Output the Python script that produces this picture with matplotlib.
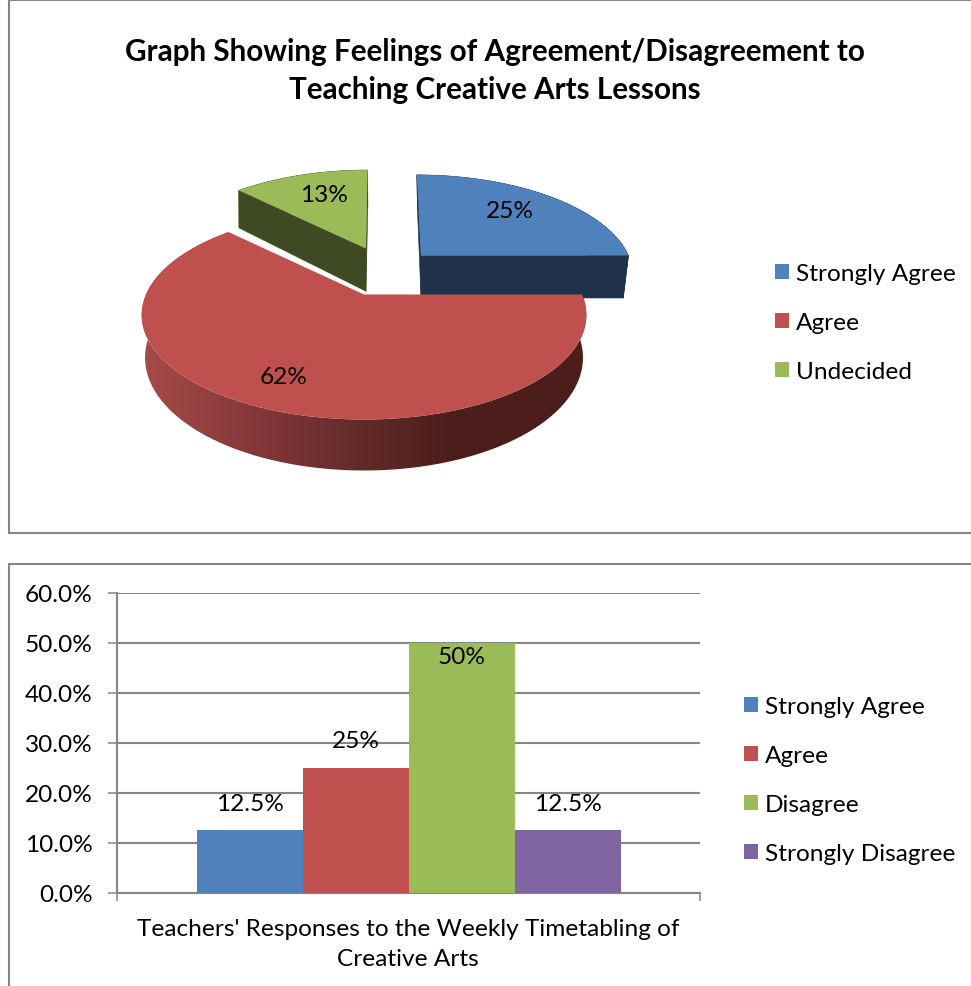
import numpy as np
import matplotlib
matplotlib.use("Agg")
import matplotlib.pyplot as plt
from matplotlib.patches import Rectangle, Polygon, Patch
from matplotlib.colors import LinearSegmentedColormap

# ---- data ----
pie_title = "Graph Showing Feelings of Agreement/Disagreement to\nTeaching Creative Arts Lessons"
pie_categories = ["Strongly Agree", "Agree", "Undecided"]
pie_values = [25.0, 62.5, 12.5]
pie_labels = ["25%", "62%", "13%"]

bar_categories = ["Strongly Agree", "Agree", "Disagree", "Strongly Disagree"]
bar_values = [12.5, 25.0, 50.0, 12.5]
bar_labels = ["12.5%", "25%", "50%", "12.5%"]
bar_xlabel = "Teachers' Responses to the Weekly Timetabling of\nCreative Arts"
y_ticks = [0, 10, 20, 30, 40, 50, 60]

# ---- style ----
W, H = 971, 987
FONT = "Lato"
FS = 17.6
BLUE, RED, GREEN, PURPLE = "#4F81BD", "#C0504D", "#9BBB59", "#8064A2"
DARK_BLUE, DARK_GREEN = "#1F3249", "#3F4A22"
GREY = "#868686"
TEXT = "#000000"
plt.rcParams["font.family"] = [FONT, "DejaVu Sans"]

fig = plt.figure(figsize=(W / 100, H / 100), dpi=100, facecolor="white")
bg = fig.add_axes([0, 0, 1, 1])
bg.axis("off")

# chart frames
for (x0, y0, x1, y1) in [(9, 0.5, W + 5, 533.5), (9, 564.5, W + 5, H + 5)]:
    bg.add_patch(Rectangle((x0, y0), x1 - x0, y1 - y0, fc="white", ec=GREY, lw=1.5))

bg.text(494.5, 71, pie_title, ha="center", va="center", fontsize=21.3,
        fontweight="bold", color=TEXT, linespacing=1.42)

# ---- 3-D pie by perspective projection ----
CX, CY = 364.0, 295.5
RX, KY, PERSP = 218.0, 100.5, 0.196
DEPTH = 41.0


def project(U, V, down=0.0):
    s = 1.0 / (1.0 + PERSP * V)
    return CX + RX * U * s, CY - KY * V * s + down * s


fracs = np.array(pie_values) / sum(pie_values)
edges = np.concatenate([[0], np.cumsum(fracs)]) * 2 * np.pi
shade_cmap = LinearSegmentedColormap.from_list(
    "side", [(0, "#A54B48"), (0.35, "#85383A"), (0.7, "#642B2A"), (1, "#4C1E1B")])
gradient_img = np.linspace(0, 1, 256).reshape(1, -1)


def draw_slice(i, offset, dark, depth, fx=1.0, fy=1.0, shear=0.0, shrink=1.0, gradient=False):
    th = np.linspace(edges[i], edges[i + 1], 160)
    ax0, ay0 = project(*offset)
    ax1, ay1 = project(offset[0], offset[1], depth)
    U, V = offset[0] + np.sin(th), offset[1] + np.cos(th)
    tx, ty = project(U, V)
    bx, by = project(U, V, depth)
    ty = ay0 + (ty - ay0) * fy
    by = ay1 + (by - ay1) * fy
    tx = ax0 + (tx - ax0) * fx + (ay0 - ty) * shear
    bx = ax0 + (bx - ax0) * fx * shrink + (ay1 - by) * shear
    wall = list(zip(tx, ty)) + list(zip(bx[::-1], by[::-1]))
    if gradient:
        im = bg.imshow(gradient_img, cmap=shade_cmap, aspect="auto", zorder=1,
                       extent=(145, 450, H, 0), interpolation="bilinear")
        left = Rectangle((0, 0), 145, H, fc="#A54B48", ec="none", zorder=1)
        right = Rectangle((450, 0), W - 450, H, fc="#4C1E1B", ec="none", zorder=1)
        bg.add_patch(left)
        bg.add_patch(right)
        clip = Polygon(wall, transform=bg.transData)
        for art in (im, left, right):
            art.set_clip_path(clip)
    else:
        bg.add_patch(Polygon(wall, fc=dark, ec=dark, lw=0.4, zorder=1))
        for j in (0, -1):
            bg.add_patch(Polygon([(ax0, ay0), (tx[j], ty[j]), (bx[j], by[j]), (ax1, ay1)],
                                 fc=dark, ec=dark, lw=0.4, zorder=1))
    bg.add_patch(Polygon([(ax0, ay0)] + list(zip(tx, ty)), fc=[BLUE, RED, GREEN][i],
                         ec="none", zorder=2))


draw_slice(2, (0.01, 0.503), DARK_GREEN, 47.0, 1.03, 1.11, shear=0.025)
draw_slice(0, (0.283, 0.42), DARK_BLUE, 46.0, 1.03, 1.11, shear=0.06, shrink=0.975)

# red slice is painted over the others
zbase = 3
before = len(bg.patches)
draw_slice(1, (0.0, 0.0), None, DEPTH, shrink=0.985, gradient=True)
for p in bg.patches[before:]:
    p.set_zorder(p.get_zorder() + zbase)
for im in bg.images:
    im.set_zorder(im.get_zorder() + zbase)

for txt, (x, y) in zip(pie_labels, [(509.5, 212), (284, 378), (324, 196)]):
    bg.text(x, y, txt, ha="center", va="center", fontsize=FS, color=TEXT, zorder=8)

bg.set_xlim(0, W)
bg.set_ylim(H, 0)


def add_legend(cats, cols, x, y):
    hs = [Patch(fc=c, ec="none", label=n) for c, n in zip(cols, cats)]
    return bg.legend(handles=hs, loc="upper left", bbox_to_anchor=(x / W, 1 - y / H),
                     bbox_transform=fig.transFigure, frameon=False, borderpad=0, borderaxespad=0,
                     fontsize=FS, handlelength=0.58, handleheight=0.58, handletextpad=0.26,
                     labelspacing=1.15, labelcolor=TEXT)


bg.add_artist(add_legend(pie_categories, [BLUE, RED, GREEN], 775, 264))
add_legend(bar_categories, [BLUE, RED, GREEN, PURPLE], 744, 697)

# ---- bar chart ----
LEFT, RIGHT, TOP, BOTTOM = 117, 700, 594, 893.5
ax = fig.add_axes([LEFT / W, 1 - BOTTOM / H, (RIGHT - LEFT) / W, (BOTTOM - TOP) / H])
ax.patch.set_alpha(0)
x = np.arange(len(bar_values))
ax.set_xlim(-0.5 - 80 / 106, len(x) - 0.5 + 79 / 106)
ax.set_ylim(0, 60)
bars = ax.bar(x, bar_values, width=1.0, color=[BLUE, RED, GREEN, PURPLE], zorder=3)
ax.set_axisbelow(True)
ax.yaxis.grid(True, color=GREY, lw=1.5)
ax.set_yticks(y_ticks, [f"{v:.1f}%" for v in y_ticks], fontsize=FS, color=TEXT)
ax.set_xticks([ax.get_xlim()[0], ax.get_xlim()[1]], ["", ""])
ax.tick_params(axis="y", length=6.5, width=1.1, color=GREY, pad=11)
ax.tick_params(axis="x", length=6, width=1.1, color=GREY)
for side in ("top", "right"):
    ax.spines[side].set_visible(False)
for side in ("left", "bottom"):
    ax.spines[side].set_color(GREY)
    ax.spines[side].set_linewidth(1.5)

for xi, v, lab in zip(x, bar_values, bar_labels):
    off = -10 if v >= 50 else 19.5
    ax.annotate(lab, (xi, v), xytext=(0, off), textcoords="offset points",
                ha="center", va="center", fontsize=FS, color=TEXT, zorder=5, clip_on=False)

bg.text(408, 944.5, bar_xlabel, ha="center", va="center", fontsize=FS, color=TEXT, linespacing=1.55)

fig.savefig("out.png", dpi=100, facecolor="white")
